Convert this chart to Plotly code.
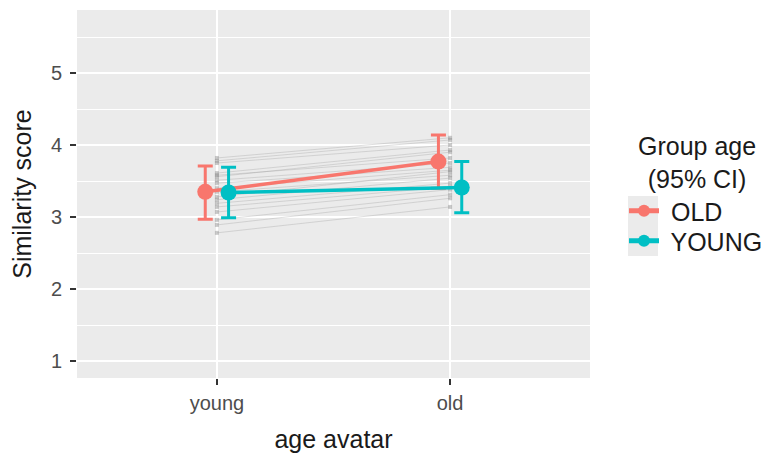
import plotly.graph_objects as go

# Avatar age conditions (x axis)
conditions = ["young", "old"]
x_pos = [1, 2]

# Per-participant similarity scores: (young avatar, old avatar)
participant_young = [3.82, 3.78, 3.75, 3.61, 3.58, 3.56, 3.51, 3.47, 3.40,
                     3.35, 3.28, 3.24, 3.19, 3.14, 3.07, 2.96, 2.89, 2.78]
participant_old = [4.10, 4.07, 4.00, 3.93, 3.82, 3.90, 3.75, 3.69, 3.65,
                   3.58, 3.63, 3.54, 3.47, 3.42, 3.38, 3.31, 3.26, 3.14]

# Group means with 95% CI
groups = ["OLD", "YOUNG"]
group_mean = {"OLD": [3.35, 3.77], "YOUNG": [3.34, 3.41]}
group_lo = {"OLD": [2.97, 3.40], "YOUNG": [2.99, 3.06]}
group_hi = {"OLD": [3.71, 4.14], "YOUNG": [3.69, 3.77]}
group_color = {"OLD": "#F8766D", "YOUNG": "#00BFC4"}
dodge = {"OLD": -0.05, "YOUNG": 0.05}
legend_ref = {"OLD": "legend", "YOUNG": "legend2"}

FONT = "Liberation Sans, Arial"

fig = go.Figure()

for yv, ov in zip(participant_young, participant_old):
    fig.add_trace(go.Scatter(
        x=x_pos, y=[yv, ov], mode="lines+markers",
        line=dict(color="rgba(150,150,150,0.3)", width=1),
        marker=dict(color="rgba(140,140,140,0.45)", size=4, symbol="square"),
        showlegend=False, hoverinfo="skip"))

for g in groups:
    xs = [x + dodge[g] for x in x_pos]
    m = group_mean[g]
    fig.add_trace(go.Scatter(
        x=xs, y=m, mode="lines+markers", name=" " + g,
        legend=legend_ref[g],
        line=dict(color=group_color[g], width=3.5),
        marker=dict(color=group_color[g], size=16),
        error_y=dict(type="data", symmetric=False,
                     array=[h - v for h, v in zip(group_hi[g], m)],
                     arrayminus=[v - l for v, l in zip(m, group_lo[g])],
                     color=group_color[g], thickness=3, width=7.5)))

# grey legend key background
fig.add_shape(type="rect", xref="paper", yref="paper",
              x0=(628 - 77) / 513, x1=(658 - 77) / 513,
              y0=(378 - 256) / 368, y1=(378 - 196) / 368,
              fillcolor="#EBEBEB", line=dict(width=0), layer="below")

# legend title, centred line by line
fig.add_annotation(text="Group age<br>(95% CI)", xref="paper", yref="paper",
                   x=(697 - 77) / 513, y=(378 - 130) / 368,
                   xanchor="center", yanchor="top", align="center",
                   showarrow=False,
                   font=dict(family=FONT, size=25, color="#1A1A1A"))

tick_font = dict(family=FONT, size=20, color="#4D4D4D")
title_font = dict(family=FONT, size=25, color="#1A1A1A")
legend_font = dict(family=FONT, size=25, color="#1A1A1A")
legend_x = (624 - 77) / 513

fig.update_layout(
    width=769, height=457,
    margin=dict(l=77, r=179, t=10, b=79, autoexpand=False),
    paper_bgcolor="white", plot_bgcolor="#EBEBEB",
    font=dict(family=FONT, color="#1A1A1A"),
    xaxis=dict(range=[0.4, 2.6], tickvals=x_pos, ticktext=conditions,
               showgrid=True, gridcolor="white", gridwidth=2,
               zeroline=False, ticks="outside", ticklen=6, tickwidth=1.5,
               tickcolor="#333333", ticklabelstandoff=1,
               tickfont=tick_font,
               title=dict(text="age avatar", font=title_font, standoff=17)),
    yaxis=dict(range=[0.764, 5.875], tickvals=[1, 2, 3, 4, 5],
               showgrid=True, gridcolor="white", gridwidth=2,
               minor=dict(tickvals=[1.5, 2.5, 3.5, 4.5, 5.5], showgrid=True,
                          gridcolor="white", gridwidth=1, ticks=""),
               zeroline=False, ticks="outside", ticklen=6, tickwidth=1.5,
               tickcolor="#333333", ticklabelstandoff=4,
               tickfont=tick_font,
               title=dict(text="Similarity score", font=title_font, standoff=12)),
    legend=dict(x=legend_x, y=(378 - 211) / 368, xanchor="left", yanchor="middle",
                bgcolor="rgba(0,0,0,0)", font=legend_font, itemsizing="constant"),
    legend2=dict(x=legend_x, y=(378 - 241) / 368, xanchor="left", yanchor="middle",
                 bgcolor="rgba(0,0,0,0)", font=legend_font, itemsizing="constant"),
)

fig.write_html("out.html")
